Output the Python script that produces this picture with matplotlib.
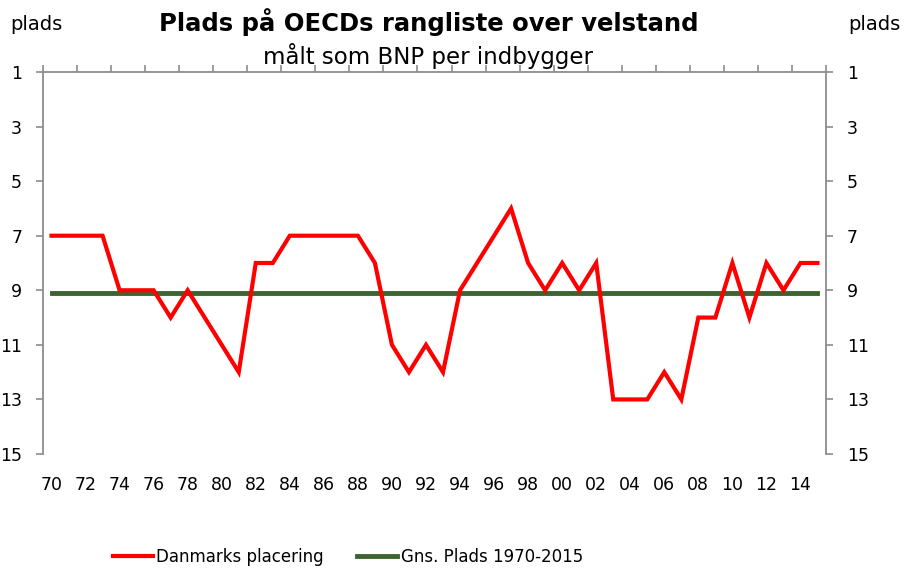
import matplotlib
matplotlib.use("Agg")
import matplotlib.pyplot as plt
from matplotlib.ticker import FixedLocator

years = list(range(1970, 2016))
placering = [7, 7, 7, 7, 9, 9, 9, 10, 9, 10, 11, 12, 8, 8, 7, 7, 7, 7, 7, 8,
             11, 12, 11, 12, 9, 8, 7, 6, 8, 9, 8, 9, 8, 13, 13, 13, 12, 13, 10, 10,
             8, 10, 8, 9, 8, 8]
gns = [9.1] * len(years)
y_ticks = [1, 3, 5, 7, 9, 11, 13, 15]
x_labels = [f"{y % 100:02d}" for y in years[::2]]

plt.rcParams['font.family'] = ['DejaVu Sans']

fig = plt.figure(figsize=(9.06, 5.69), dpi=100)
ax = fig.add_axes([43/906, 1-454/569, (826-43)/906, (454-72)/569])

x = list(range(len(years)))
ax.plot(x, placering, color='#ff0000', lw=3, solid_joinstyle='miter', zorder=3,
        label='Danmarks placering')
ax.plot(x, gns, color='#3c6430', lw=3.5, zorder=2, label='Gns. Plads 1970-2015')

ax.set_xlim(-0.5, len(years) - 0.5)
ax.set_ylim(15, 1)

gray = '#8c8c8c'
ax.spines['bottom'].set_visible(False)
for s in ['top', 'left', 'right']:
    ax.spines[s].set_color(gray)
    ax.spines[s].set_linewidth(1.3)

ax.set_yticks(y_ticks)
ax.set_yticklabels([str(v) for v in y_ticks])
ax.tick_params(axis='y', which='major', left=True, right=True, labelleft=True,
               labelright=True, direction='out', length=5, width=1.2, color=gray,
               labelsize=12.5, pad=10)

ax.xaxis.set_major_locator(FixedLocator(x[::2]))
ax.set_xticklabels(x_labels)
ax.xaxis.set_minor_locator(FixedLocator([i - 0.5 for i in range(0, len(years) + 1, 2)]))
ax.tick_params(axis='x', which='major', bottom=False, top=False, labelbottom=True,
               labelsize=12.5, pad=16, length=0)
ax.tick_params(axis='x', which='minor', bottom=False, top=True, direction='out',
               length=5, width=1.2, color=gray)

fig.text(10/906, 1-25/569, 'plads', fontsize=14, ha='left', va='center')
fig.text(848/906, 1-25/569, 'plads', fontsize=14, ha='left', va='center')
fig.text(429/906, 1-22/569, 'Plads på OECDs rangliste over velstand', fontsize=17.5,
         fontweight='bold', ha='center', va='center')
fig.text(428/906, 1-56/569, 'målt som BNP per indbygger', fontsize=16.5,
         ha='center', va='center')

fig.legend(loc='center', bbox_to_anchor=(348/906, 1-557/569), ncol=2, frameon=False,
           fontsize=12, handlelength=2.4, columnspacing=2.0, handletextpad=0.2)

fig.savefig('out.png', dpi=100)
